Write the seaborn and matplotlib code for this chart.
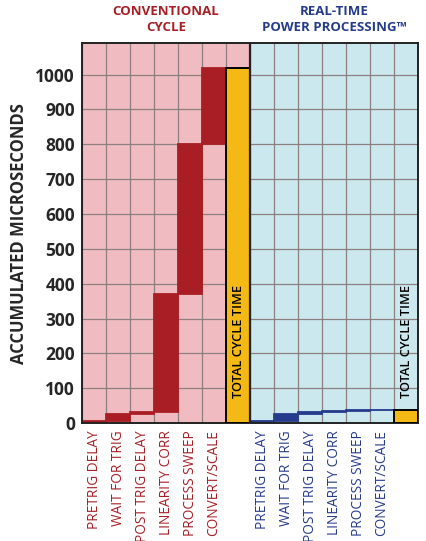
import matplotlib
matplotlib.use("Agg")
import matplotlib.pyplot as plt
import matplotlib.transforms as mtransforms
import seaborn as sns
import pandas as pd

# stage names, same for both cycles
STAGES = ["PRETRIG DELAY", "WAIT FOR TRIG", "POST TRIG DELAY",
          "LINEARITY CORR", "PROCESS SWEEP", "CONVERT/SCALE"]

# duration of each stage in microseconds (accumulated waterfall)
conv_durations = [7, 19, 7, 337, 430, 220]
rtpp_durations = [5, 20, 7, 4, 0.5, 0.5]
conv_total = 1020
rtpp_total = 37

RED = "#a81e24"
BLUE = "#253b8c"
GOLD = "#f5b915"
PINK = "#f0bcc1"
CYAN = "#cce8ef"
GRID = "#8c7f80"


def waterfall(durations):
    starts, acc = [], 0
    for d in durations:
        starts.append(acc)
        acc += d
    return starts


conv_starts = waterfall(conv_durations)
rtpp_starts = waterfall(rtpp_durations)

keys = [f"c{i}" for i in range(7)] + [f"r{i}" for i in range(7)]
df = pd.DataFrame({
    "key": keys,
    "height": conv_durations + [conv_total] + rtpp_durations + [rtpp_total],
    "bottom": conv_starts + [0] + rtpp_starts + [0],
    "color": [RED] * 6 + [GOLD] + [BLUE] * 6 + [GOLD],
})

sns.set_theme(style="white")
plt.rcParams["font.family"] = ["Open Sans", "DejaVu Sans"]

fig = plt.figure(figsize=(4.26, 5.41), dpi=100)
ax = fig.add_axes([0.1925, 0.218, 0.789, 0.702])

ax.axvspan(-0.5, 6.5, color=PINK, zorder=0, lw=0)
ax.axvspan(6.5, 13.5, color=CYAN, zorder=0, lw=0)
for x in range(14):
    ax.axvline(x - 0.5, color=GRID, lw=0.9, zorder=1)
for y in range(100, 1100, 100):
    ax.axhline(y, color=GRID, lw=0.9, zorder=1)

# one call, no hue -> one ax.bar with the whole bottom array
sns.barplot(data=df, x="key", y="height", order=keys,
            bottom=df["bottom"].values, color=RED, width=1.0,
            saturation=1, errorbar=None, ax=ax, zorder=2)

# colour the bars; thin stripes need some body, totals get a black edge
bars = ax.containers[-1]
for patch, key, col in zip(bars, df["key"], df["color"]):
    patch.set_facecolor(col)
    if key in ("c6", "r6"):
        patch.set_edgecolor("black")
        patch.set_linewidth(1.4)
        patch.set_zorder(3)
    else:
        patch.set_edgecolor(col)
        patch.set_linewidth(1.3)

ax.axvline(6.5, color="#222222", lw=1.6, zorder=4)

ax.set_xlim(-0.5, 13.5)
ax.set_ylim(0, 1090)
ax.set_yticks(range(0, 1100, 100))
ax.set_yticklabels([str(v) for v in range(0, 1100, 100)],
                   fontsize=12.5, fontweight="bold")
ax.set_ylabel("ACCUMULATED MICROSECONDS", fontsize=12,
              fontweight="bold", labelpad=5)
ax.set_xlabel("")

ax.set_xticks(range(14))
ax.set_xticklabels(STAGES + [""] + STAGES + [""], rotation=90,
                   fontsize=9.8, va="top", ha="center")
for lab, col in zip(ax.get_xticklabels(), df["color"]):
    lab.set_color(col)
ax.tick_params(axis="both", length=0, pad=5)

for side in ["top", "bottom", "left", "right"]:
    ax.spines[side].set_visible(True)
    ax.spines[side].set_color("#222222")
    ax.spines[side].set_linewidth(1.4)

ax.text(6, 72, "TOTAL CYCLE TIME", rotation=90, ha="center", va="bottom",
        fontsize=9.2, fontweight="semibold", color="black", zorder=5)
ax.text(13, 72, "TOTAL CYCLE TIME", rotation=90, ha="center", va="bottom",
        fontsize=9.2, fontweight="semibold", color="black", zorder=5)

trans = mtransforms.blended_transform_factory(ax.transData, ax.transAxes)
ax.text(3, 1.025, "CONVENTIONAL\nCYCLE", transform=trans, ha="center",
        va="bottom", fontsize=9.5, fontweight="bold", color=RED,
        linespacing=1.25)
ax.text(10, 1.025, "REAL-TIME\nPOWER PROCESSING™", transform=trans,
        ha="center", va="bottom", fontsize=9.5, fontweight="bold",
        color=BLUE, linespacing=1.25)

fig.savefig("out.png", dpi=100)
